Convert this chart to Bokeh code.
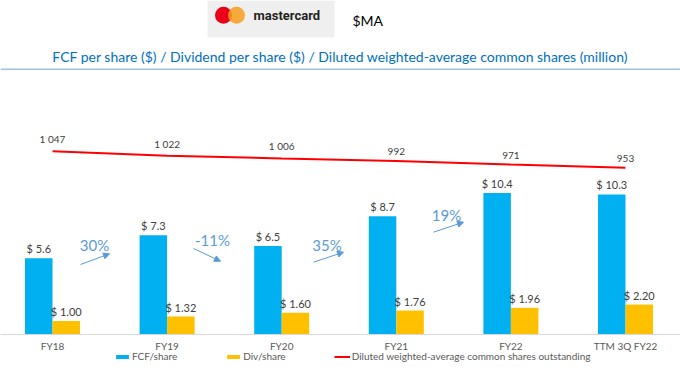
from bokeh.plotting import figure
from bokeh.models import (Range1d, FixedTicker, Label, Arrow, NormalHead, Span,
                          BoxAnnotation, Legend, LegendItem, ColumnDataSource, LinearAxis)
from bokeh.core.properties import value
from bokeh.transform import dodge
from bokeh.embed import file_html
from bokeh.resources import INLINE

# ---- data ----
categories = ["FY18", "FY19", "FY20", "FY21", "FY22", "TTM 3Q FY22"]
fcf_per_share = [5.6, 7.3, 6.5, 8.7, 10.4, 10.3]
div_per_share = [1.00, 1.32, 1.60, 1.76, 1.96, 2.20]
diluted_shares = [1047, 1022, 1006, 992, 971, 953]
growth_labels = ["30%", "-11%", "35%", "19%"]

x = list(range(len(categories)))
src = ColumnDataSource(dict(
    x=x,
    fcf=fcf_per_share,
    div=div_per_share,
    shares=diluted_shares,
    fcf_lbl=[f"$ {v:.1f}" for v in fcf_per_share],
    div_lbl=[f"$ {v:.2f}" for v in div_per_share],
    sh_lbl=[f"{v:,}".replace(",", " ") for v in diluted_shares],
))

FONT = "Lato"
H = 367
BASE = 334          # pixel row of the value-zero baseline
PX_FCF = 13.6       # px per $ on primary scale
PX_SH = 0.175       # px per million shares on secondary scale

p = figure(width=680, height=H, output_backend="svg", toolbar_location=None,
           x_range=Range1d(-0.4538, 5.480),
           y_range=Range1d(-(H - BASE) / PX_FCF, BASE / PX_FCF),
           x_axis_type=None, y_axis_type=None,
           min_border_left=0, min_border_right=0,
           min_border_top=0, min_border_bottom=0, outline_line_color=None,
           background_fill_color="white", border_fill_color="white")
p.styles = {"position": "absolute", "left": "0px", "top": "0px"}
p.extra_y_ranges = {"shares": Range1d(-(H - BASE) / PX_SH, BASE / PX_SH),
                    "py": Range1d(H, 0)}
p.extra_x_ranges = {"px": Range1d(0, 680)}

# bars
blue = p.vbar(x=dodge("x", -0.12), top="fcf", width=0.24, source=src,
              fill_color="#00B0F0", line_color=None)
yellow = p.vbar(x=dodge("x", 0.12), top="div", width=0.24, source=src,
                fill_color="#FFC000", line_color=None)
red = p.line(x="x", y="shares", source=src, y_range_name="shares",
             line_color="#FF0000", line_width=2)

# value labels
p.text(x=dodge("x", -0.12), y="fcf", text="fcf_lbl", source=src,
       text_align="center", text_baseline="bottom", y_offset=-3,
       text_font=value(FONT), text_font_size="11px", text_color="#404040")
p.text(x=dodge("x", 0.12), y="div", text="div_lbl", source=src,
       text_align="center", text_baseline="bottom", y_offset=-3,
       text_font=value(FONT), text_font_size="11px", text_color="#404040")
p.text(x="x", y="shares", text="sh_lbl", source=src, y_range_name="shares",
       text_align="center", text_baseline="bottom", y_offset=-6,
       text_font=value(FONT), text_font_size="10px", text_color="#404040")

# x axis fixed at value 0
ax = LinearAxis(fixed_location=0)
ax.ticker = FixedTicker(ticks=x)
ax.major_label_overrides = {i: c for i, c in zip(x, categories)}
ax.major_tick_line_color = None
ax.minor_tick_line_color = None
ax.major_tick_out = 0
ax.major_tick_in = 0
ax.axis_line_color = "#D9D9D9"
ax.major_label_standoff = 5
ax.major_label_text_font = FONT
ax.major_label_text_font_size = "10px"
ax.major_label_text_color = "#595959"
p.add_layout(ax, "below")

# legend
legend = Legend(items=[LegendItem(label="FCF/share", renderers=[blue]),
                       LegendItem(label="Div/share", renderers=[yellow]),
                       LegendItem(label="Diluted weighted-average common shares outstanding",
                                  renderers=[red])],
                location=(114, 5), orientation="horizontal",
                border_line_color=None, background_fill_alpha=0,
                padding=0, margin=0, spacing=48, glyph_width=16, glyph_height=5,
                label_text_font=FONT, label_text_font_size="10px",
                label_text_color="#595959", label_standoff=2, label_height=10)
p.add_layout(legend, "center")

# header: logo box, title, rule
p.add_layout(BoxAnnotation(left=207, right=334, top=0, bottom=37,
                           x_range_name="px", y_range_name="py",
                           fill_color="#EFEFEF", fill_alpha=1, line_alpha=0))
p.add_layout(BoxAnnotation(left=214.5, right=231.5, top=6.2, bottom=23.2,
                           x_range_name="px", y_range_name="py", border_radius=9,
                           fill_color="#EB001B", fill_alpha=1, line_alpha=0))
p.add_layout(BoxAnnotation(left=227.5, right=244.5, top=6.2, bottom=23.2,
                           x_range_name="px", y_range_name="py", border_radius=9,
                           fill_color="#F79E1B", fill_alpha=0.85, line_alpha=0))
p.add_layout(Label(x=253, y=15, x_range_name="px", y_range_name="py", text="mastercard",
                   text_baseline="middle", text_font="Roboto", text_font_size="13px",
                   text_font_style="bold", text_color="#231F20"))
p.add_layout(Label(x=352, y=20, x_range_name="px", y_range_name="py", text="$MA",
                   text_baseline="middle", text_font=FONT, text_font_size="14px",
                   text_color="#000000"))
p.add_layout(Label(x=340, y=55.7, x_range_name="px", y_range_name="py",
                   text="FCF per share ($) / Dividend per share ($) / Diluted weighted-average common shares (million)",
                   text_align="center", text_baseline="middle", text_font=FONT,
                   text_font_size="14px", text_color="#0070C0"))
p.add_layout(Span(location=68.7, dimension="width", y_range_name="py",
                  line_color="#9DC3E6", line_width=1.5))

# growth annotations
g_text_pos = [(94, 244.3), (212, 239), (326.5, 244.3), (446, 214)]
g_arrows = [(80, 264, 109, 253.3), (193, 248, 220, 260.7),
            (313, 261.7, 343, 251.7), (433, 231.7, 463, 221.7)]
for lbl, (tx, ty), (x0, y0, x1, y1) in zip(growth_labels, g_text_pos, g_arrows):
    p.add_layout(Label(x=tx, y=ty, x_range_name="px", y_range_name="py", text=lbl,
                       text_align="center", text_baseline="middle", text_font=FONT,
                       text_font_size="15px", text_color="#5B9BD5"))
    p.add_layout(Arrow(x_start=x0, y_start=y0, x_end=x1, y_end=y1,
                       x_range_name="px", y_range_name="py",
                       line_color="#5B9BD5", line_width=1,
                       end=NormalHead(size=6, fill_color="#5B9BD5", line_color="#5B9BD5")))

open("out.html", "w").write(file_html(p, INLINE))
